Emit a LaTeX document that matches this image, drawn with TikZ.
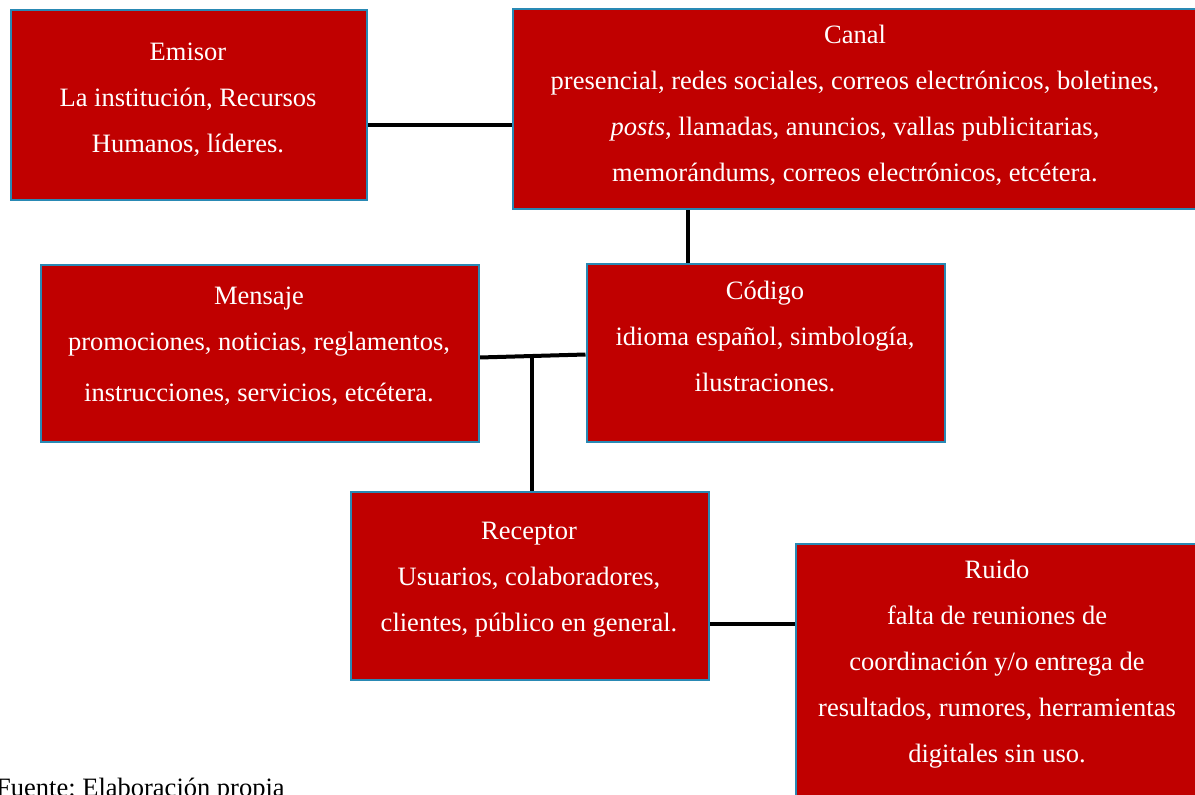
\documentclass[tikz,border=0pt]{standalone}
\usepackage{fontspec}
\setmainfont{Liberation Serif}
\frenchspacing
\definecolor{boxred}{RGB}{192,0,0}
\definecolor{boxblue}{RGB}{41,137,180}
\pgfdeclarelayer{bg}
\pgfsetlayers{bg,main}
\begin{document}
\begin{tikzpicture}[x=1pt,y=-1pt,
  box/.style={draw=boxblue, line width=2pt, fill=boxred, inner sep=0pt, anchor=north west, rectangle},
  txt/.style={text=white, font=\fontsize{26.5}{46}\selectfont, align=center, anchor=base, inner sep=0pt},
  link/.style={line width=4pt, draw=black}]
\clip (0,0) rectangle (1195,795);
% boxes
\node[box, minimum width=356pt, minimum height=190pt] (emisor) at (9.5,8.5) {};
\node[box, minimum width=690pt, minimum height=200pt] (canal) at (511.5,8) {};
\node[box, minimum width=358pt, minimum height=178pt] (codigo) at (585.5,262.5) {};
\node[box, minimum width=438pt, minimum height=177pt] (mensaje) at (39.5,263.5) {};
\node[box, minimum width=358pt, minimum height=188pt] (receptor) at (349.5,490.5) {};
\node[box, minimum width=410pt, minimum height=262pt] (ruido) at (794.5,542.5) {};
% texts (anchor base = baseline of the last line)
\node[txt] (emisor-t) at (188,152) {Emisor\\La institución, Recursos\\Humanos, líderes.};
\node[txt] (canal-t) at (855,181) {Canal\\presencial, redes sociales, correos electrónicos, boletines,\\\textit{posts}, llamadas, anuncios, vallas publicitarias,\\memorándums, correos electrónicos, etcétera.};
\node[txt] (codigo-t) at (765,391) {Código\\idioma español, simbología,\\ilustraciones.};
\node[txt] (mensaje-t) at (259,401) {Mensaje\\promociones, noticias, reglamentos,\\[5pt]instrucciones, servicios, etcétera.};
\node[txt] (receptor-t) at (529,631) {Receptor\\Usuarios, colaboradores,\\clientes, público en general.};
\node[txt] (ruido-t) at (997,762) {Ruido\\falta de reuniones de\\coordinación y/o entrega de\\resultados, rumores, herramientas\\digitales sin uso.};
\node[anchor=base west, inner sep=0pt, font=\fontsize{26.5}{46}\selectfont] (fuente) at (-4,796) {Fuente: Elaboración propia};
% connectors
\begin{pgfonlayer}{bg}
\draw[link] ([yshift=-20pt]emisor.east) -- ([yshift=-20pt]emisor.east -| canal.west);
\draw[link] ([xshift=102pt]codigo.north west) -- ([xshift=102pt]codigo.north west |- canal.south);
\draw[link] ([yshift=-4.5pt]mensaje.east) -- ([yshift=-2pt]codigo.west);
\coordinate (j) at (532,356.5);
\draw[link] (j) -- (j |- receptor.north);
\draw[link] ([yshift=-38pt]receptor.east) -- ([yshift=-38pt]receptor.east -| ruido.west);
\end{pgfonlayer}
\end{tikzpicture}
\end{document}
